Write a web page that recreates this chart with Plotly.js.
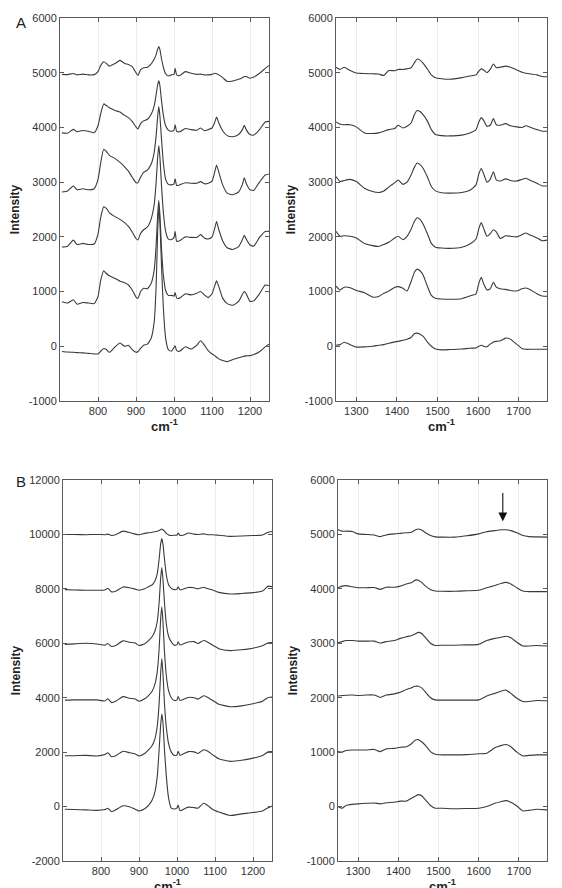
<!DOCTYPE html>
<html>
<head>
<meta charset="utf-8">
<script src="https://cdn.plot.ly/plotly-3.0.1.min.js"></script>
<style>
  html, body { margin: 0; padding: 0; background: #ffffff; overflow: hidden; }
  #chart { width: 562px; height: 900px; }
</style>
</head>
<body>
<div id="chart"></div>
<script>
// Raman shift grids (cm^-1) for each spectral window
const shiftA_low = [705,720,735,745,760,775,790,800,807,815,822,830,845,858,870,880,890,900,905,912,920,930,940,948,953,957,960,963,967,972,978,985,993,1000,1003,1007,1015,1030,1045,1060,1070,1080,1090,1100,1107,1112,1118,1128,1140,1155,1170,1180,1185,1190,1200,1210,1225,1240,1250];
const shiftA_high = [1250,1260,1270,1285,1300,1320,1340,1355,1368,1380,1395,1403,1415,1425,1435,1443,1450,1457,1465,1475,1485,1495,1510,1530,1560,1580,1595,1602,1608,1614,1622,1630,1638,1645,1655,1668,1680,1695,1708,1718,1730,1745,1758,1770];
const shiftB_low = [705,730,760,790,810,818,828,840,858,875,890,900,915,925,935,942,948,953,957,960,963,967,972,978,985,993,1000,1003,1008,1020,1030,1045,1055,1070,1080,1095,1110,1140,1170,1200,1225,1240,1250];
const shiftB_high = [1250,1260,1270,1285,1300,1320,1340,1355,1370,1390,1405,1420,1432,1442,1450,1458,1468,1480,1492,1510,1540,1570,1600,1620,1640,1655,1668,1680,1695,1710,1725,1745,1770];

// Panel A, 700-1250 cm^-1 (stacked spectra, top to bottom)
const aLow1 = [4970,4965,4985,4960,4975,4960,4965,5020,5130,5200,5170,5120,5170,5225,5170,5150,5110,5000,4950,5050,5090,5100,5160,5250,5330,5430,5480,5420,5260,5100,4980,4940,4960,4970,5080,4960,4950,5020,4990,4970,4975,4960,4960,4970,4990,4980,4960,4910,4840,4850,4880,4910,4930,4930,4900,4920,4990,5080,5130];
const aLow2 = [3900,3895,3965,3920,3945,3930,3905,4030,4250,4430,4400,4360,4310,4280,4220,4180,4110,4010,3970,4070,4120,4150,4240,4400,4600,4780,4850,4760,4500,4220,4030,3950,3930,3950,4050,3930,3920,3980,3960,3950,3990,3940,3960,3990,4090,4190,4080,3940,3850,3830,3870,3960,4040,3960,3870,3860,3960,4100,4110];
const aLow3 = [2820,2840,2930,2860,2880,2860,2880,3050,3350,3600,3560,3490,3430,3360,3280,3200,3090,2990,2990,3090,3180,3220,3330,3550,3850,4200,4380,4200,3800,3350,3050,2960,2950,2970,3060,2940,2950,2990,2980,2980,3010,2970,2980,3020,3180,3310,3180,2950,2800,2770,2820,2960,3080,2980,2860,2850,3000,3130,3150];
const aLow4 = [1815,1830,1940,1860,1880,1860,1870,2050,2350,2550,2520,2440,2370,2320,2260,2190,2090,1970,1945,2060,2130,2180,2330,2600,3000,3450,3670,3450,2950,2450,2100,1960,1950,1990,2100,1920,1930,2000,1990,1990,2040,1980,1960,2000,2150,2280,2130,1930,1800,1770,1820,1950,2030,1960,1850,1830,1990,2100,2100];
const aLow5 = [815,790,850,770,800,790,780,910,1200,1380,1330,1290,1240,1190,1160,1120,1030,900,875,1000,1060,1050,1150,1400,1850,2400,2670,2400,1800,1300,1020,930,930,920,980,880,880,960,940,970,1000,940,890,960,1100,1195,1090,880,780,750,820,950,1000,960,820,830,960,1120,1110];
const aLow6 = [-95,-105,-110,-115,-120,-130,-140,-140,-90,-40,-60,-110,-10,60,0,20,-60,-110,-100,-40,20,40,150,450,1100,2100,2550,2250,1500,700,150,-60,-90,-20,10,-80,-90,-10,-50,20,100,20,-80,-140,-170,-200,-230,-260,-280,-240,-210,-190,-180,-175,-170,-150,-100,-10,40];

// Panel A, 1250-1770 cm^-1
const aHigh1 = [5100,5060,5100,5040,4995,4985,4980,4975,4950,5040,5035,5060,5060,5070,5090,5180,5250,5230,5170,5070,4960,4910,4890,4880,4910,4940,4960,5030,5070,5050,5000,5060,5160,5090,5100,5120,5100,5050,5010,4990,4975,4960,4930,4925];
const aHigh2 = [4100,4060,4050,4050,4010,3900,3890,3900,3930,3960,3980,4040,3990,4020,4080,4230,4310,4290,4230,4120,3960,3870,3850,3845,3860,3900,3960,4100,4180,4130,4020,4040,4160,4050,4040,4070,4030,4010,4000,4030,4000,3960,3930,3930];
const aHigh3 = [3100,3010,3030,3050,3010,2890,2830,2810,2840,2910,2990,3040,2960,3000,3130,3270,3350,3320,3250,3100,2920,2840,2805,2800,2810,2850,2950,3150,3250,3150,3000,3050,3190,3040,3020,3060,3030,3020,3050,3070,3030,2980,2930,2930];
const aHigh4 = [2100,2010,2020,2010,1980,1880,1840,1825,1860,1900,1980,2010,1950,2010,2140,2280,2350,2320,2230,2060,1880,1810,1795,1790,1810,1870,1960,2150,2260,2150,2010,2060,2130,2090,1970,2020,2010,2000,2040,2070,2030,1980,1930,1940];
const aHigh5 = [1100,1030,1080,1070,1020,980,900,910,970,1010,1080,1090,1060,1010,1180,1350,1410,1380,1300,1100,930,880,865,860,870,920,960,1150,1260,1140,1030,1050,1170,1080,1050,1040,1020,1010,1050,1065,1030,960,920,915];
const aHigh6 = [20,30,75,30,-15,-10,0,20,30,55,80,90,110,130,160,230,240,220,180,80,0,-50,-65,-60,-50,-35,-30,0,20,0,-10,40,80,90,100,150,130,40,-40,-55,-55,-55,-55,-55];

// Panel B, 700-1250 cm^-1
const bLow1 = [10000,9995,9990,10000,9990,10010,9960,10000,10120,10070,10010,9990,10040,10060,10080,10100,10120,10140,10180,10200,10170,10120,10040,9980,9960,9970,9980,10050,9960,9990,10050,10010,10000,10020,9990,9990,9970,9930,9940,9960,9980,10080,10110];
const bLow2 = [7970,7960,7950,7950,7960,8020,7890,7920,8070,8040,7990,7950,8000,8080,8150,8300,8550,9100,9650,9850,9650,9100,8500,8150,8020,7970,7990,8080,7960,8010,8050,8040,8000,8060,8010,7950,7870,7810,7830,7860,7920,8100,8080];
const bLow3 = [5960,5980,6000,5975,5930,5990,5880,5930,6090,6040,6010,5920,5980,6100,6250,6450,6800,7500,8400,8780,8350,7500,6700,6250,6050,5930,5950,6050,5940,6000,6050,6060,5990,6100,6050,5920,5800,5730,5760,5820,5910,6020,6030];
const bLow4 = [3910,3920,3920,3920,3880,3960,3820,3880,4040,3980,3950,3870,3960,4080,4250,4500,4950,5800,6900,7340,6800,5700,4800,4250,4000,3900,3920,4040,3900,3960,4010,4000,3950,4070,4020,3890,3760,3670,3700,3780,3870,4010,4020];
const bLow5 = [1870,1870,1880,1860,1910,1980,1830,1880,2030,1980,1930,1860,1950,2080,2250,2500,2950,3800,4900,5440,4900,3800,2900,2300,2000,1880,1900,2030,1880,1960,2020,2010,1950,2090,2040,1890,1760,1660,1700,1780,1880,2010,2020];
const bLow6 = [-100,-110,-120,-140,-110,-60,-190,-110,30,-10,-100,-160,-80,40,250,550,1100,2100,3000,3400,3100,2100,1100,300,-60,-90,-50,60,-150,-80,-20,-40,-60,120,50,-120,-200,-330,-270,-220,-160,-40,20];

// Panel B, 1250-1770 cm^-1
const bHigh1 = [5090,5060,5060,5055,5010,5000,4990,4960,4990,5010,5020,5030,5040,5080,5100,5080,5030,4980,4955,4950,4950,4975,5010,5050,5070,5085,5085,5070,5030,4980,4960,4955,4950];
const bHigh2 = [4020,4050,4060,4040,4020,4020,4025,3990,4030,4030,4050,4090,4110,4160,4160,4120,4050,3990,3960,3955,3955,3965,3975,4020,4060,4100,4120,4090,4020,3960,3950,3950,3950];
const bHigh3 = [3010,3030,3050,3050,3040,3040,3040,3005,3030,3050,3090,3120,3140,3170,3200,3180,3100,3000,2960,2965,2965,2970,2980,3050,3090,3110,3130,3100,3020,2950,2950,2960,2950];
const bHigh4 = [2030,2040,2045,2050,2040,2050,2050,2005,2050,2070,2100,2150,2180,2210,2210,2180,2100,2000,1960,1955,1955,1955,1960,2030,2080,2120,2140,2080,1990,1930,1930,1950,1945];
const bHigh5 = [1010,1000,1030,1040,1040,1040,1050,1010,1060,1070,1090,1100,1150,1220,1230,1190,1120,1010,960,950,950,955,970,980,1080,1120,1140,1100,1000,930,940,950,950];
const bHigh6 = [0,-30,20,40,50,60,65,50,70,80,100,100,150,190,220,200,120,20,-30,-30,-40,-35,-30,0,60,90,110,80,10,-80,-70,-50,-60];

// Axis ticks
const lowTicks = [800, 900, 1000, 1100, 1200];
const highTicks = [1300, 1400, 1500, 1600, 1700];
const intensityTicksSmall = [-1000, 0, 1000, 2000, 3000, 4000, 5000, 6000];
const intensityTicksLarge = [-2000, 0, 2000, 4000, 6000, 8000, 10000, 12000];

const lineColor = '#3a3a3a';
const axisColor = '#5a5a5a';
const fontFamily = '"Liberation Sans", Arial, Helvetica, sans-serif';

const traces = [];
function addStack(xs, stack, xa, ya) {
  stack.forEach(function (ys) {
    traces.push({
      type: 'scatter', mode: 'lines', x: xs, y: ys,
      xaxis: xa, yaxis: ya,
      line: { color: lineColor, width: 1.1, shape: 'spline', smoothing: 0.5 },
      hoverinfo: 'skip', showlegend: false
    });
  });
}
addStack(shiftA_low, [aLow1, aLow2, aLow3, aLow4, aLow5, aLow6], 'x', 'y');
addStack(shiftA_high, [aHigh1, aHigh2, aHigh3, aHigh4, aHigh5, aHigh6], 'x2', 'y2');
addStack(shiftB_low, [bLow1, bLow2, bLow3, bLow4, bLow5, bLow6], 'x3', 'y3');
addStack(shiftB_high, [bHigh1, bHigh2, bHigh3, bHigh4, bHigh5, bHigh6], 'x4', 'y4');

// Figure is slightly taller than the window so the lowest axis titles run off the bottom edge
const W = 562, H = 900;
function px(a, b) { return [a / W, b / W]; }
function py(top, bottom) { return [1 - bottom / H, 1 - top / H]; }

function xAxis(domain, range, ticks, anchor) {
  return {
    domain: domain, range: range, anchor: anchor,
    tickmode: 'array', tickvals: ticks, ticktext: ticks.map(String),
    ticks: 'inside', ticklen: 4, tickwidth: 1, tickcolor: axisColor,
    showline: true, linecolor: axisColor, linewidth: 1, mirror: 'ticks',
    showgrid: true, gridcolor: '#ececec', gridwidth: 1, zeroline: false,
    tickfont: { family: fontFamily, size: 11, color: '#333333' },
    title: { text: '<b>cm<sup>-1</sup></b>', standoff: 4,
             font: { family: fontFamily, size: 13, color: '#222222' } },
    fixedrange: true
  };
}
function yAxis(domain, range, ticks, anchor) {
  return {
    domain: domain, range: range, anchor: anchor,
    tickmode: 'array', tickvals: ticks, ticktext: ticks.map(String),
    ticks: 'inside', ticklen: 4, tickwidth: 1, tickcolor: axisColor,
    showline: true, linecolor: axisColor, linewidth: 1, mirror: 'ticks',
    showgrid: false, zeroline: false,
    tickfont: { family: fontFamily, size: 11, color: '#333333' },
    title: { text: '<b>Intensity</b>', standoff: 6,
             font: { family: fontFamily, size: 12, color: '#222222' } },
    fixedrange: true
  };
}

const topRow = py(18, 401);
const bottomRow = py(480, 861);

const layout = {
  width: W, height: H,
  margin: { l: 0, r: 0, t: 0, b: 0 },
  paper_bgcolor: '#ffffff', plot_bgcolor: '#ffffff',
  showlegend: false,
  xaxis: xAxis(px(60, 269), [700, 1250], lowTicks, 'y'),
  yaxis: yAxis(topRow, [-1000, 6000], intensityTicksSmall, 'x'),
  xaxis2: xAxis(px(336, 547), [1250, 1770], highTicks, 'y2'),
  yaxis2: yAxis(topRow, [-1000, 6000], intensityTicksSmall, 'x2'),
  xaxis3: xAxis(px(63, 272), [700, 1250], lowTicks, 'y3'),
  yaxis3: yAxis(bottomRow, [-2000, 12000], intensityTicksLarge, 'x3'),
  xaxis4: xAxis(px(338, 547), [1250, 1770], highTicks, 'y4'),
  yaxis4: yAxis(bottomRow, [-1000, 6000], intensityTicksSmall, 'x4'),
  annotations: [
    { text: 'A', xref: 'paper', yref: 'paper', x: 21 / W, y: 1 - 22 / H,
      showarrow: false, xanchor: 'center', yanchor: 'middle',
      font: { family: fontFamily, size: 15, color: '#222222' } },
    { text: 'B', xref: 'paper', yref: 'paper', x: 21 / W, y: 1 - 481 / H,
      showarrow: false, xanchor: 'center', yanchor: 'middle',
      font: { family: fontFamily, size: 15, color: '#222222' } },
    // marker pointing at the amide I band
    { text: '', xref: 'x4', yref: 'y4', x: 1660, y: 5240,
      axref: 'x4', ayref: 'y4', ax: 1660, ay: 5790,
      showarrow: true, arrowhead: 2, arrowsize: 1.6, arrowwidth: 1.1,
      arrowcolor: '#111111' }
  ]
};

Plotly.newPlot('chart', traces, layout, { staticPlot: true, displayModeBar: false });
</script>
</body>
</html>
